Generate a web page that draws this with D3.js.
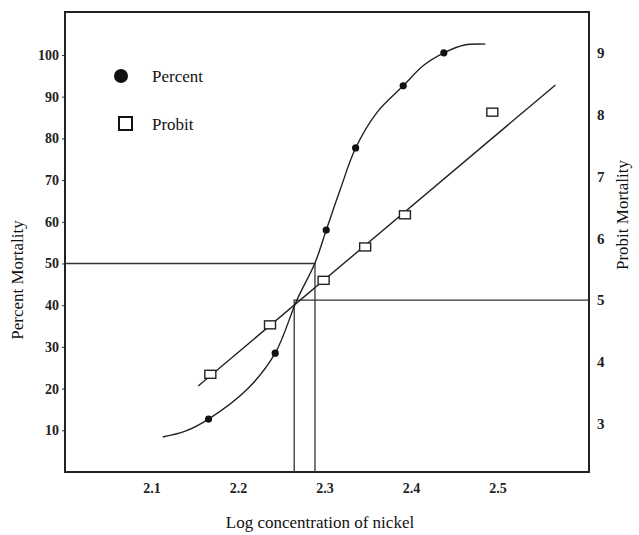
<html>

<script src="https://d3js.org/d3.v7.min.js"></script>

<style>

    body {
        margin: 0;
        background: white;
    }

    svg {
        font-family: "Liberation Serif", "Times New Roman", serif;
    }

    .frame {
        fill: none;
        stroke: #222;
        stroke-width: 2px;
    }

    .ref {
        fill: none;
        stroke: #333;
        stroke-width: 1.3px;
    }

    .curve {
        fill: none;
        stroke: #222;
        stroke-width: 1.4px;
    }

    .dot {
        fill: #111;
    }

    .box {
        fill: white;
        stroke: #222;
        stroke-width: 1.4px;
    }

    .axis text {
        font-family: "Liberation Serif", serif;
        font-weight: bold;
        font-size: 14px;
        fill: #222;
    }

    .axis.right text {
        font-size: 15px;
    }

    .axis line {
        stroke: #333;
    }

    .title {
        font-size: 17px;
        fill: #111;
    }

</style>

<svg width=639 height=535></svg>

<script>

    // x ticks and left / right axis ticks
    let xTicks = [2.1, 2.2, 2.3, 2.4, 2.5];
    let pctTicks = [10, 20, 30, 40, 50, 60, 70, 80, 90, 100];
    let probitTicks = [3, 4, 5, 6, 7, 8, 9];

    // percent mortality (filled dots)
    let pctX = [2.166, 2.243, 2.302, 2.336, 2.391, 2.438];
    let pctY = [12.7, 28.5, 58.0, 77.7, 92.6, 100.5];

    // hand drawn percent curve
    let pctCurveX = [2.113, 2.139, 2.166, 2.210, 2.243, 2.268, 2.289, 2.302, 2.318, 2.336, 2.361, 2.391, 2.414, 2.438, 2.462, 2.486];
    let pctCurveY = [8.4, 9.8, 12.7, 19.7, 28.5, 41.2, 50.1, 58.0, 67.6, 77.7, 86.3, 92.6, 97.4, 100.5, 102.4, 102.6];

    // probit mortality (open squares) and fitted line ends
    let probitX = [2.168, 2.237, 2.299, 2.347, 2.393, 2.494];
    let probitY = [3.80, 4.60, 5.32, 5.86, 6.38, 8.04];
    let probitLineX = [2.154, 2.567];
    let probitLineY = [3.61, 8.48];

    // LC50 guide lines
    let refPct = 50, refPctX = 2.289;
    let refProbit = 5, refProbitX = 2.265;

    let svg = d3.select('svg'),
        margin = { top: 12, right: 50, bottom: 63, left: 65 },
        width = +svg.attr('width') - margin.left - margin.right,
        height = +svg.attr('height') - margin.top - margin.bottom,
        g = svg.append('g')
            .attr('transform', 'translate(' + margin.left + ',' + margin.top + ')');

    let x = d3.scaleLinear().domain([2.0, 2.6058]).range([0, width]);
    let yP = d3.scaleLinear().domain([0, 110.3]).range([height, 0]);
    let yR = d3.scaleLinear().domain([2.22, 9.66]).range([height, 0]);

    // axes
    g.append('g')
        .attr('class', 'axis left')
        .call(d3.axisLeft(yP).tickValues(pctTicks).tickSize(3).tickPadding(3));

    g.append('g')
        .attr('class', 'axis right')
        .attr('transform', 'translate(' + width + ',0)')
        .call(d3.axisRight(yR).tickValues(probitTicks).tickSize(0).tickPadding(8));

    g.append('g')
        .attr('class', 'axis bottom')
        .attr('transform', 'translate(0,' + height + ')')
        .call(d3.axisBottom(x).tickValues(xTicks).tickSize(0).tickPadding(11)
            .tickFormat(d3.format('.1f')));

    g.selectAll('.axis .domain').remove();

    g.append('rect')
        .attr('class', 'frame')
        .attr('x', 0)
        .attr('y', 0)
        .attr('width', width)
        .attr('height', height);

    // guide lines
    g.append('path')
        .attr('class', 'ref')
        .attr('d', d3.line()([
            [x(2.0), yP(refPct)], [x(refPctX), yP(refPct)], [x(refPctX), height]
        ]));

    g.append('path')
        .attr('class', 'ref')
        .attr('d', d3.line()([
            [width, yR(refProbit)], [x(refProbitX), yR(refProbit)], [x(refProbitX), height]
        ]));

    // percent curve + dots
    let pctCurve = d3.line()
        .curve(d3.curveCatmullRom.alpha(0.5))
        .x(d => x(d[0]))
        .y(d => yP(d[1]));

    g.append('path')
        .attr('class', 'curve')
        .attr('d', pctCurve(d3.zip(pctCurveX, pctCurveY)));

    g.selectAll('.dot')
        .data(d3.zip(pctX, pctY))
        .enter()
        .append('circle')
        .attr('class', 'dot')
        .attr('cx', d => x(d[0]))
        .attr('cy', d => yP(d[1]))
        .attr('r', 3.6);

    // probit line + squares
    let probitLine = d3.line()
        .x(d => x(d[0]))
        .y(d => yR(d[1]));

    g.append('path')
        .attr('class', 'curve')
        .attr('d', probitLine(d3.zip(probitLineX, probitLineY)));

    let bw = 11, bh = 8;
    g.selectAll('.box')
        .data(d3.zip(probitX, probitY))
        .enter()
        .append('rect')
        .attr('class', 'box')
        .attr('x', d => x(d[0]) - bw / 2)
        .attr('y', d => yR(d[1]) - bh / 2)
        .attr('width', bw)
        .attr('height', bh);

    // legend
    let legend = svg.append('g')
        .attr('transform', 'translate(121,76)');

    legend.append('circle')
        .attr('class', 'dot')
        .attr('cx', 0)
        .attr('cy', 0)
        .attr('r', 7);

    legend.append('text')
        .attr('class', 'title')
        .attr('x', 31)
        .attr('y', 6)
        .text('Percent');

    legend.append('rect')
        .attr('x', -2)
        .attr('y', 41)
        .attr('width', 13)
        .attr('height', 13)
        .attr('fill', 'white')
        .attr('stroke', '#111')
        .attr('stroke-width', 2);

    legend.append('text')
        .attr('class', 'title')
        .attr('x', 31)
        .attr('y', 54)
        .text('Probit');

    // axis titles
    svg.append('text')
        .attr('class', 'title')
        .attr('transform', 'translate(23,280) rotate(-90)')
        .attr('text-anchor', 'middle')
        .text('Percent Mortality');

    svg.append('text')
        .attr('class', 'title')
        .attr('transform', 'translate(628,215) rotate(-90)')
        .attr('text-anchor', 'middle')
        .text('Probit Mortality');

    svg.append('text')
        .attr('class', 'title')
        .attr('x', 320)
        .attr('y', 528)
        .attr('text-anchor', 'middle')
        .text('Log concentration of nickel');

</script>
</html>
